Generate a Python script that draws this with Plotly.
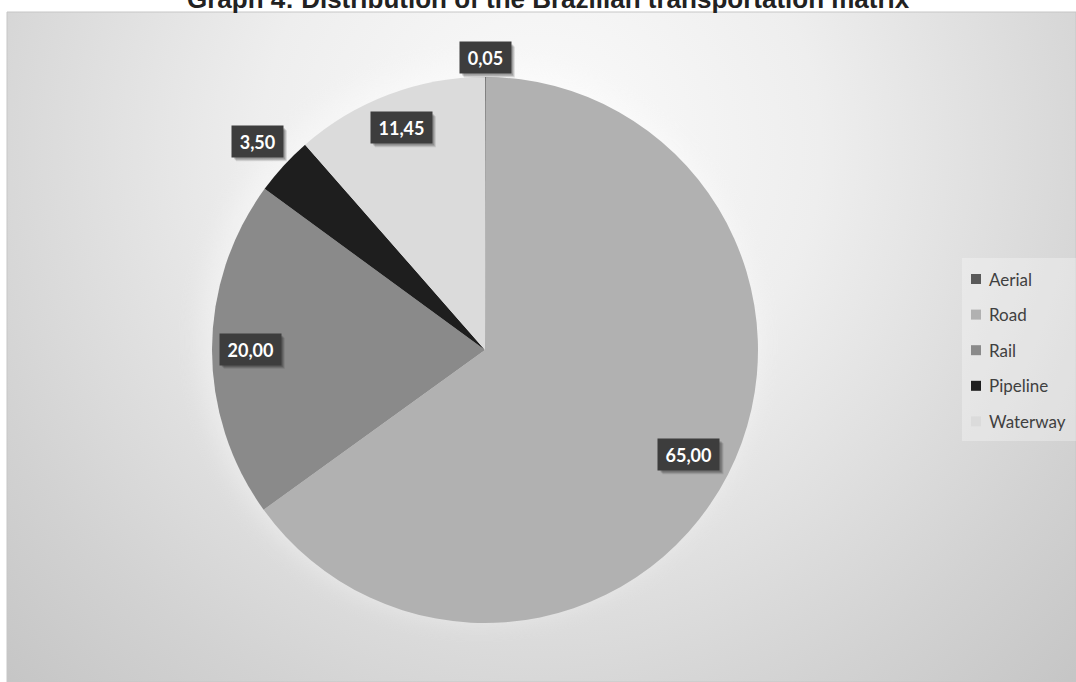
import base64
import math
import plotly.graph_objects as go

# ---------------- data ----------------
categories = ["Aerial", "Road", "Rail", "Pipeline", "Waterway"]
shares = [0.05, 65.00, 20.00, 3.50, 11.45]
title_text = "Graph 4: Distribution of the Brazilian transportation matrix"

# ---------------- styles ----------------
slice_colors = ["#595959", "#b1b1b1", "#8a8a8a", "#1e1e1e", "#dbdbdb"]
label_radius = [1.07, 0.84, 0.86, 1.13, 0.87]  # radial position of value boxes (fraction of radius)

W, H = 1076, 682
ML, MT = 7, 12
PW, PH = W - ML, H - MT
pie_cx, pie_cy, pie_r = 485, 350, 273  # pixel layout of the pie


def px2paper(x, y):
    return (x - ML) / PW, 1 - (y - MT) / PH


dom_x = [(pie_cx - pie_r - ML) / PW, (pie_cx + pie_r - ML) / PW]
dom_y = [1 - (pie_cy + pie_r - MT) / PH, 1 - (pie_cy - pie_r - MT) / PH]

fig = go.Figure()
fig.add_trace(go.Pie(
    labels=categories, values=shares, sort=False, direction="clockwise", rotation=0,
    textinfo="none", hoverinfo="label+value",
    marker=dict(colors=slice_colors, line=dict(width=0)),
    domain=dict(x=dom_x, y=dom_y), showlegend=False,
))

# ---------------- background (radial gradient + soft glow around pie) ----------------
svg = f"""<svg xmlns='http://www.w3.org/2000/svg' width='{PW}' height='{PH}' viewBox='0 0 {PW} {PH}'>
<defs><radialGradient id='g' gradientUnits='userSpaceOnUse' cx='534' cy='134' r='800'>
<stop offset='0' stop-color='#fbfbfb'/><stop offset='0.35' stop-color='#eeeeee'/>
<stop offset='0.75' stop-color='#d2d2d2'/><stop offset='1' stop-color='#c2c2c2'/></radialGradient>
<filter id='b' x='-50%' y='-50%' width='200%' height='200%'><feGaussianBlur stdDeviation='12'/></filter></defs>
<rect width='{PW}' height='{PH}' fill='url(#g)'/>
<circle cx='{pie_cx - ML - 6}' cy='{pie_cy - MT - 8}' r='{pie_r + 6}' fill='#ffffff' opacity='0.35' filter='url(#b)'/>
</svg>"""
src = "data:image/svg+xml;base64," + base64.b64encode(svg.encode()).decode()
fig.add_layout_image(dict(source=src, xref="paper", yref="paper", x=0, y=1, sizex=1, sizey=1,
                          xanchor="left", yanchor="top", sizing="stretch", layer="below"))

shapes = [dict(type="rect", xref="paper", yref="paper", x0=0, x1=1, y0=0, y1=1,
               line=dict(color="#c6c6c6", width=1), fillcolor="rgba(0,0,0,0)", layer="below")]
annotations = []

# ---------------- value labels ----------------
total = sum(shares)
cum = 0.0
for i, v in enumerate(shares):
    mid = (cum + v / 2) / total * 2 * math.pi
    cum += v
    px = pie_cx + label_radius[i] * pie_r * math.sin(mid)
    py = pie_cy - label_radius[i] * pie_r * math.cos(mid)
    ax, ay = px2paper(px, py)
    txt = f"{v:.2f}".replace(".", ",")
    bw, bh = 10 * len(txt) + 11, 31
    # soft drop shadow
    for off, alpha in ((4, 0.10), (3, 0.14), (2, 0.16)):
        sx0, sy0 = px2paper(px - bw / 2 + off, py + bh / 2 + off)
        sx1, sy1 = px2paper(px + bw / 2 + off, py - bh / 2 + off)
        shapes.append(dict(type="rect", xref="paper", yref="paper", x0=sx0, x1=sx1, y0=sy0, y1=sy1,
                           line=dict(width=0), fillcolor=f"rgba(0,0,0,{alpha})", layer="above"))
    annotations.append(dict(x=ax, y=ay, xref="paper", yref="paper", text=f"<b>{txt}</b>",
                            showarrow=False, xanchor="center", yanchor="middle",
                            width=bw, height=bh, borderpad=0, bgcolor="#3d3d3d",
                            font=dict(family="Lato", size=18, color="#ffffff")))

# ---------------- legend ----------------
lx0, ly0 = px2paper(962, 441)
lx1, ly1 = px2paper(1080, 258)
shapes.append(dict(type="rect", xref="paper", yref="paper", x0=lx0, x1=lx1, y0=ly0, y1=ly1,
                   line=dict(width=0), fillcolor="rgba(255,255,255,0.3)", layer="below"))
item_y0, item_gap = 279, 35.6
for i, name in enumerate(categories):
    cy = item_y0 + i * item_gap
    qx0, qy0 = px2paper(971, cy + 5)
    qx1, qy1 = px2paper(981, cy - 5)
    shapes.append(dict(type="rect", xref="paper", yref="paper", x0=qx0, x1=qx1, y0=qy0, y1=qy1,
                       line=dict(width=0), fillcolor=slice_colors[i]))
    tx, ty = px2paper(987, cy)
    annotations.append(dict(x=tx, y=ty, xref="paper", yref="paper",
                            text=name, showarrow=False, xanchor="left", yanchor="middle",
                            font=dict(family="Lato", size=17, color="#404040")))

# ---------------- title ----------------
annotations.append(dict(x=px2paper(548, 0)[0], y=1, xref="paper", yref="paper",
                        text=f"<b>{title_text}</b>", showarrow=False,
                        xanchor="center", yanchor="bottom", yshift=-4,
                        font=dict(family="Liberation Sans, Arial", size=26, color="#222222")))

fig.update_layout(
    width=W, height=H, margin=dict(l=ML, r=0, t=MT, b=0),
    paper_bgcolor="#ffffff", plot_bgcolor="#ffffff",
    shapes=shapes, annotations=annotations, showlegend=False,
)

fig.write_html("out.html", config={"displayModeBar": False},
               post_script="document.body.style.margin='0px';")
